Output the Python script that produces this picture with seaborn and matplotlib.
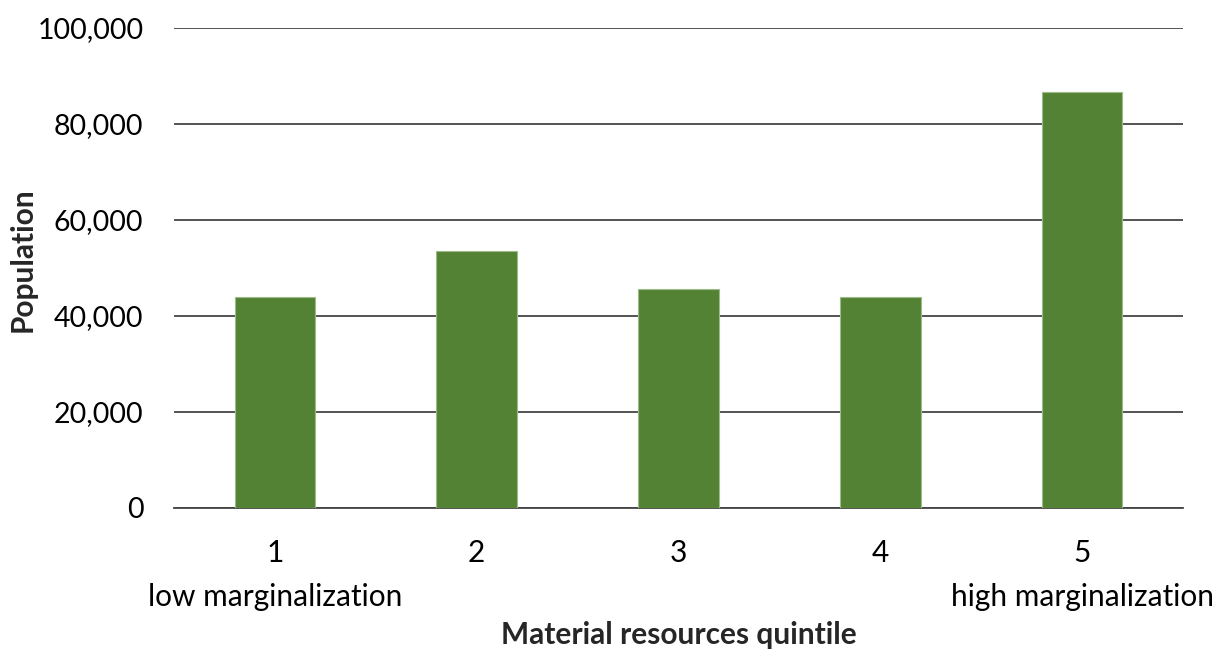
import matplotlib
matplotlib.use("Agg")
import matplotlib.pyplot as plt
import seaborn as sns
import pandas as pd
from matplotlib.ticker import FuncFormatter

quintiles = ["1", "2", "3", "4", "5"]
sublabels = ["low marginalization", "", "", "", "high marginalization"]
population = [44000, 53600, 45700, 43900, 86750]
yticks = [0, 20000, 40000, 60000, 80000, 100000]

sns.set_theme(style="white")
plt.rcParams['font.family'] = ['Lato', 'DejaVu Sans']

df = pd.DataFrame({"quintile": quintiles, "population": population})

fig = plt.figure(figsize=(12.17, 6.5), dpi=100)
ax = fig.add_axes([0.143, 0.2185, 0.829, 0.7385])

sns.barplot(data=df, x="quintile", y="population", color="#548235",
            saturation=1, width=0.4, edgecolor="#9dbb86", linewidth=0.8,
            ax=ax, zorder=3)

ax.set_ylim(0, 100000)
ax.set_yticks(yticks)
ax.yaxis.set_major_formatter(FuncFormatter(lambda v, p: f"{int(v):,}"))
ax.grid(axis="y", color="#454545", linewidth=1.3, zorder=0)
ax.set_axisbelow(True)
for s in ["top", "right", "left"]:
    ax.spines[s].set_visible(False)
ax.spines["bottom"].set_color("#454545")
ax.spines["bottom"].set_linewidth(1.3)
ax.tick_params(axis="both", length=0, colors="#000000")
ax.tick_params(axis="y", pad=22, labelsize=20.5)
ax.tick_params(axis="x", pad=22, labelsize=21.5)
ax.set_xlim(-0.5, 4.5)

labels = [f"{q}\n{s}" for q, s in zip(quintiles, sublabels)]
ax.set_xticks(range(len(quintiles)))
ax.set_xticklabels(labels, linespacing=1.7, va="top")

ax.set_xlabel("Material resources quintile", fontsize=21.5, fontweight="bold")
ax.set_ylabel("Population", fontsize=21.5, fontweight="bold")
ax.xaxis.set_label_coords(0.5, -0.235)
ax.yaxis.set_label_coords(-0.136, 0.517)

fig.savefig("out.png", dpi=100)
